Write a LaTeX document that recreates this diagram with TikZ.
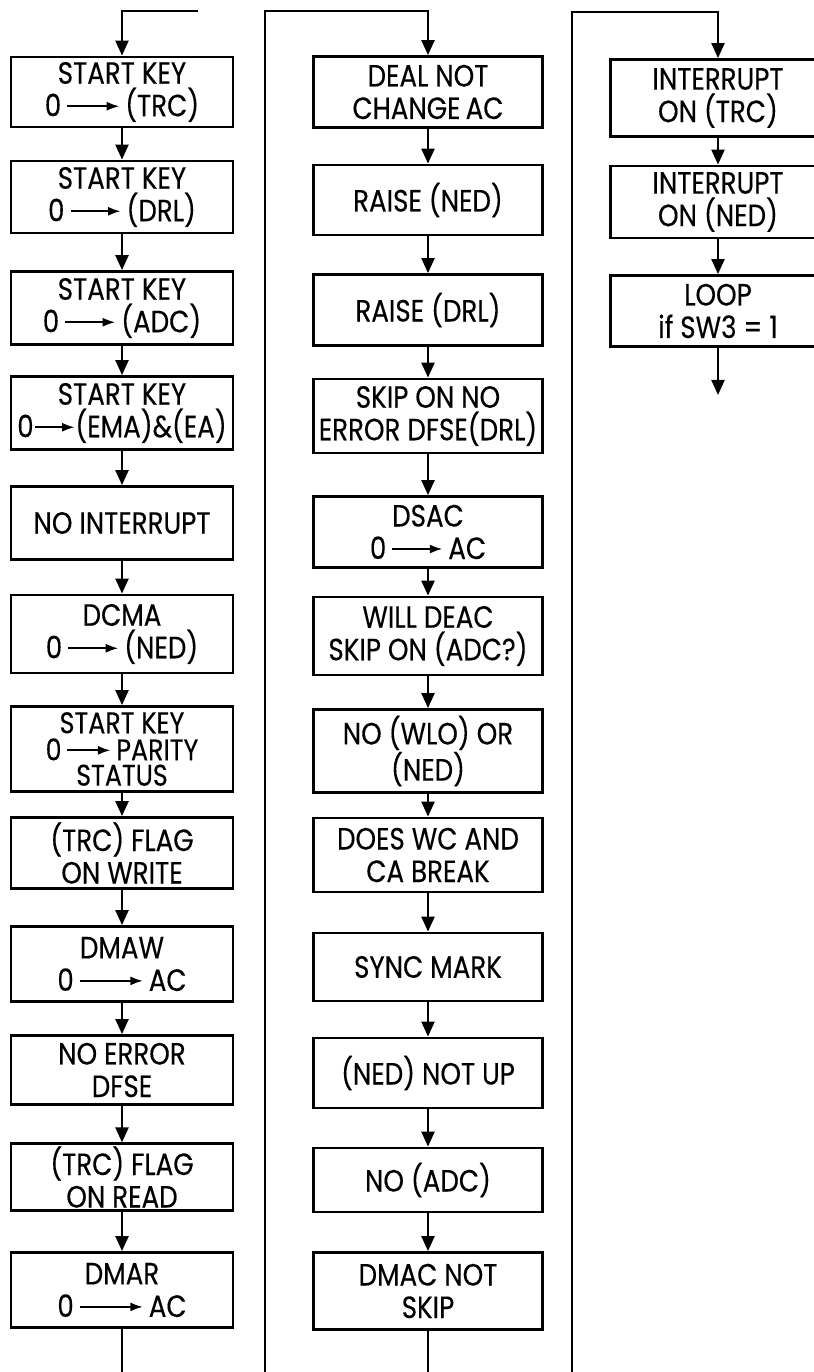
\documentclass[tikz,border=0pt]{standalone}
\usepackage{fontspec}
\setmainfont{Poppins}[FakeStretch=0.85,FakeBold=0.3]
\usetikzlibrary{arrows.meta}

% small arrow inside the box texts
\newcommand{\setto}[1][10mm]{\tikz[baseline=-2mm]\draw[line width=1pt,-{Latex[length=2.5mm,width=1.8mm]}] (0,0) -- (#1,0);}

\tikzset{
  box/.style={draw, line width=1.6pt, minimum width=44.4mm, minimum height=14.4mm,
    align=center, inner sep=0.5mm, font=\fontsize{17.5}{18.5}\selectfont},
  mbox/.style={box, minimum width=45.8mm},
  flow/.style={line width=1.3pt, -{Triangle[length=3mm,width=2.6mm]}},
  rail/.style={line width=1.3pt}
}

\begin{document}
\begin{tikzpicture}[x=0.2mm,y=-0.2mm]
\useasboundingbox (0,0) rectangle (814,1372);

% first column
\node[box, minimum height=14mm] (L1) at (122,92) {START KEY\\0\,\setto[10.4mm]\,(TRC)};
\node[box] (L2) at (122,197) {START KEY\\0\,\setto\,(DRL)};
\node[box, minimum height=14.6mm] (L3) at (122,308) {START KEY\\0\,\setto\,(ADC)};
\node[box, minimum height=14.6mm] (L4) at (122,413) {START KEY\\0\setto[8mm](EMA)\&(EA)};
\node[box, minimum height=14.6mm] (L5) at (122,523) {NO INTERRUPT};
\node[box, minimum height=15.6mm] (L6) at (122,634) {DCMA\\0\,\setto\,(NED)};
\node[box, minimum height=17mm, font=\fontsize{17}{14.4}\selectfont] (L7) at (122,749) {START KEY\\[1pt]0\,\setto[8.6mm]\,PARITY\\STATUS};
\node[box, minimum height=14.2mm] (L8) at (122,853) {(TRC) FLAG\\ON WRITE};
\node[box, minimum height=15mm] (L9) at (122,964) {DMAW\\0\,\setto[12.6mm]\,AC};
\node[box, minimum height=13.8mm] (L10) at (122,1070) {NO ERROR\\DFSE};
\node[box, minimum height=13.2mm] (L11) at (122,1177) {(TRC) FLAG\\ON READ};
\node[box, minimum height=15mm] (L12) at (122,1290) {DMAR\\0\,\setto[12.6mm]\,AC};

% second column
\node[mbox, minimum height=14.2mm] (M1) at (428,92) {DEAL NOT\\CHANGE\,AC};
\node[mbox, minimum height=14mm] (M2) at (428,200) {RAISE (NED)};
\node[mbox, minimum height=14.2mm] (M3) at (428,310) {RAISE (DRL)};
\node[mbox, minimum height=14.8mm] (M4) at (428,416) {SKIP ON NO\\ERROR DFSE(DRL)};
\node[mbox, minimum height=14.2mm] (M5) at (428,532) {DSAC\\0\,\setto\,AC};
\node[mbox, minimum height=15.6mm] (M6) at (428,636) {WILL DEAC\\SKIP ON (ADC?)};
\node[mbox, minimum height=16.6mm] (M7) at (428,751) {NO (WLO) OR\\(NED)};
\node[mbox, minimum height=14.8mm] (M8) at (428,855) {DOES WC AND\\CA BREAK};
\node[mbox, minimum height=13.6mm] (M9) at (428,967) {SYNC MARK};
\node[mbox, minimum height=14mm] (M10) at (428,1073) {(NED) NOT UP};
\node[mbox, minimum height=12.8mm] (M11) at (428,1180) {NO (ADC)};
\node[mbox, minimum height=15.4mm] (M12) at (428,1291) {DMAC NOT\\SKIP};

% third column
\node[box, minimum width=43mm, minimum height=15.4mm] (R1) at (718,98) {INTERRUPT\\ON (TRC)};
\node[box, minimum width=43mm] (R2) at (718,202) {INTERRUPT\\ON (NED)};
\node[box, minimum width=43mm, minimum height=14.2mm] (R3) at (718,311) {LOOP\\if SW3 = 1};

% entry and exit points
\coordinate (lin) at (198,11);
\coordinate (lout) at (122,1385);
\coordinate (min) at (265,1385);
\coordinate (mtop) at (265,11);
\coordinate (mout) at (428,1385);
\coordinate (rin) at (572,1385);
\coordinate (rtop) at (572,12);
\coordinate (rout) at (718,395);

\draw[flow] (lin) -| (L1.north);
\draw[flow] (L1) -- (L2);
\draw[flow] (L2) -- (L3);
\draw[flow] (L3) -- (L4);
\draw[flow] (L4) -- (L5);
\draw[flow] (L5) -- (L6);
\draw[flow] (L6) -- (L7);
\draw[flow] (L7) -- (L8);
\draw[flow] (L8) -- (L9);
\draw[flow] (L9) -- (L10);
\draw[flow] (L10) -- (L11);
\draw[flow] (L11) -- (L12);
\draw[rail] (L12) -- (lout);

\draw[flow] (min) -- (mtop) -| (M1.north);
\draw[flow] (M1) -- (M2);
\draw[flow] (M2) -- (M3);
\draw[flow] (M3) -- (M4);
\draw[flow] (M4) -- (M5);
\draw[flow] (M5) -- (M6);
\draw[flow] (M6) -- (M7);
\draw[flow] (M7) -- (M8);
\draw[flow] (M8) -- (M9);
\draw[flow] (M9) -- (M10);
\draw[flow] (M10) -- (M11);
\draw[flow] (M11) -- (M12);
\draw[rail] (M12) -- (mout);

\draw[flow] (rin) -- (rtop) -| (R1.north);
\draw[flow] (R1) -- (R2);
\draw[flow] (R2) -- (R3);
\draw[flow] (R3) -- (rout);
\end{tikzpicture}
\end{document}
